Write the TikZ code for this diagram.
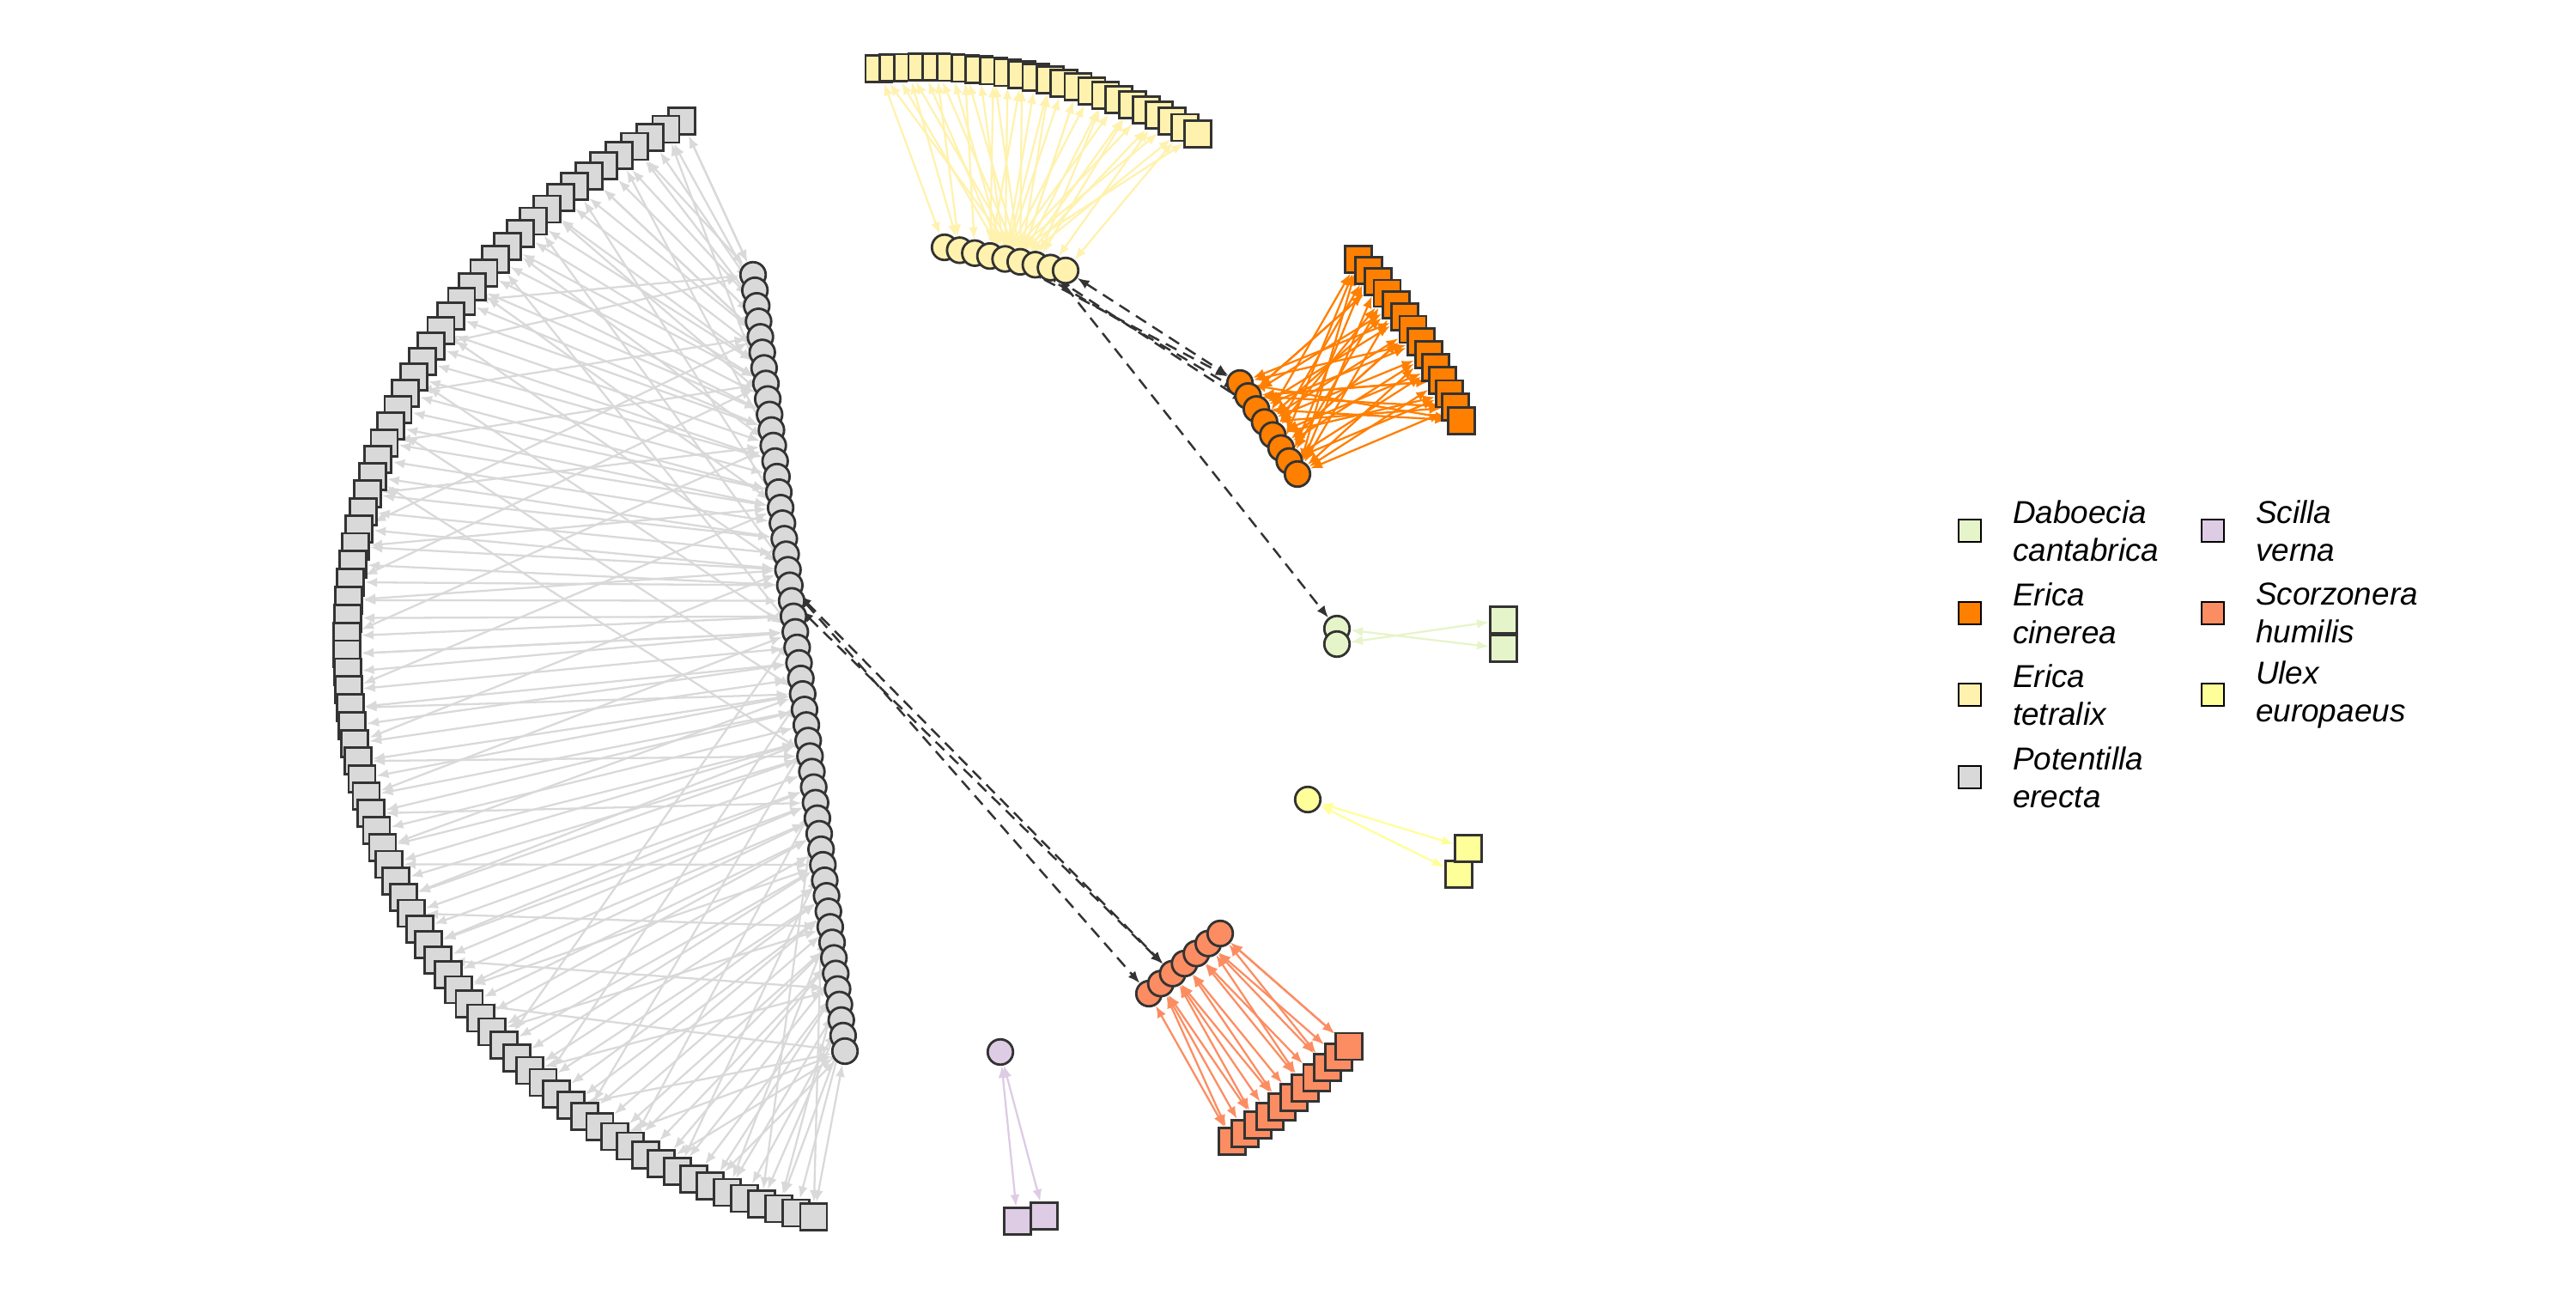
\documentclass[tikz,border=0pt]{standalone}
\usepackage{fontspec}
\setmainfont{Liberation Sans}
\usetikzlibrary{arrows.meta,calc,positioning,backgrounds}
\definecolor{daboecia}{HTML}{E6F5C9}
\definecolor{cinerea}{HTML}{FF7F00}
\definecolor{tetralix}{HTML}{FFF2AE}
\definecolor{potentilla}{HTML}{D9D9D9}
\definecolor{scilla}{HTML}{DECBE4}
\definecolor{scorzonera}{HTML}{FC8D62}
\definecolor{ulex}{HTML}{FFFF99}
\definecolor{rim}{HTML}{333333}

\tikzset{
  sqbox/.style={rectangle,draw=rim,line width=0.8pt,inner sep=0pt,minimum size=3.1mm},
  dotnode/.style={circle,draw=rim,line width=0.8pt,inner sep=0pt,minimum size=2.95mm},
  link/.style={<->,line width=0.65pt},
  crosslink/.style={<->,line width=0.7pt,draw=rim,dash pattern=on 4pt off 2.5pt},
  legbox/.style={rectangle,draw=black,line width=0.8pt,inner sep=0pt,minimum size=2.6mm},
  legtext/.style={font=\fontsize{10.5}{12.5}\selectfont\itshape,align=left,inner sep=0pt}
}

% squares on the outer ring, evenly spread between two angles
\newcommand{\sqarc}[5]{%
  \foreach \k in {1,...,#3}{%
    \pgfmathsetmacro\angpos{(#4)+((#5)-(#4))*(\k-1)/(#3-1)}%
    \node[sqbox,fill=#2] (#1\k) at ($(O)+(\angpos:6.76)$) {};
  }}
% circles on a straight row between two points
\newcommand{\dotrow}[5]{%
  \foreach \k in {1,...,#3}{%
    \pgfmathsetmacro\tpos{(\k-1)/(#3-1)}%
    \node[dotnode,fill=#2] (#1\k) at ($#4!\tpos!#5$) {};
  }}

\begin{document}
\begin{tikzpicture}[>={Latex[length=1.4mm,width=1.1mm]}]
 \useasboundingbox (0,0) rectangle (30,15);
 \coordinate (O) at (10.80,7.46);

 % outer ring
 \sqarc{ps}{potentilla}{82}{115}{258.7}
 \sqarc{ts}{tetralix}{24}{94.8}{62.2}
 \sqarc{cs}{cinerea}{14}{42.0}{23.0}
 \sqarc{zs}{scorzonera}{11}{-58.3}{-43.4}
 \node[sqbox,fill=daboecia] (ds1) at (17.51,7.78) {};
 \node[sqbox,fill=daboecia] (ds2) at (17.51,7.45) {};
 \node[sqbox,fill=ulex] (us2) at (16.99,4.82) {};
 \node[sqbox,fill=ulex] (us1) at (17.10,5.12) {};
 \node[sqbox,fill=scilla] (ss1) at (11.85,0.78) {};
 \node[sqbox,fill=scilla] (ss2) at (12.16,0.84) {};

 % inner rows
 \dotrow{pc}{potentilla}{51}{(8.77,11.80)}{(9.84,2.76)}
 \dotrow{tc}{tetralix}{9}{(11.00,12.12)}{(12.41,11.85)}
 \dotrow{cc}{cinerea}{8}{(14.44,10.54)}{(15.11,9.48)}
 \dotrow{zc}{scorzonera}{7}{(13.38,3.43)}{(14.21,4.13)}
 \node[dotnode,fill=daboecia] (dc1) at (15.57,7.68) {};
 \node[dotnode,fill=daboecia] (dc2) at (15.57,7.50) {};
 \node[dotnode,fill=ulex] (uc) at (15.23,5.69) {};
 \node[dotnode,fill=scilla] (sc) at (11.65,2.75) {};

 \begin{scope}[on background layer]
  % Potentilla
  \foreach \j in {1,...,82}{
    \pgfmathtruncatemacro\ia{round((\j-1)*50/81)+1}
    \pgfmathtruncatemacro\ib{max(1,min(51,\ia+mod(11*\j,31)-15))}
    \pgfmathtruncatemacro\m{mod(\j,3)}
    \draw[link,potentilla] (pc\ia) -- (ps\j);
    \ifnum\m>0 \draw[link,potentilla] (pc\ib) -- (ps\j);\fi
  }
  % Erica tetralix
  \foreach \k in {1,...,24}{
    \pgfmathtruncatemacro\ca{5+mod(\k,2)}
    \pgfmathtruncatemacro\cb{max(1,min(9,round((\k-1)*8/23)+1))}
    \draw[link,tetralix] (tc\ca) -- (ts\k);
    \ifodd\k\relax \draw[link,tetralix] (tc\cb) -- (ts\k);\fi
  }
  % Erica cinerea
  \foreach \k in {1,...,14}{
    \pgfmathtruncatemacro\ca{mod(3*\k,8)+1}
    \pgfmathtruncatemacro\cb{mod(5*\k+2,8)+1}
    \pgfmathtruncatemacro\cc{mod(\k+4,8)+1}
    \draw[link,cinerea] (cc\ca) -- (cs\k);
    \draw[link,cinerea] (cc\cb) -- (cs\k);
    \ifodd\k\relax \draw[link,cinerea] (cc\cc) -- (cs\k);\fi
  }
  % Scorzonera humilis
  \foreach \k in {1,...,11}{
    \pgfmathtruncatemacro\ca{round((\k-1)*6/10)+1}
    \pgfmathtruncatemacro\cb{min(7,\ca+1)}
    \draw[link,scorzonera] (zc\ca) -- (zs\k);
    \ifodd\k\relax \draw[link,scorzonera] (zc\cb) -- (zs\k);\fi
  }
  % small groups
  \foreach \x/\y/\c in {dc1/ds2/daboecia,dc2/ds1/daboecia,uc/us1/ulex,
    uc/us2/ulex,sc/ss1/scilla,sc/ss2/scilla}
    \draw[link,\c] (\x) -- (\y);
  % links between groups
  \foreach \x/\y in {tc9/cc1,tc5/cc1,tc6/cc2,tc7/cc3,tc8/dc1,
    pc21/zc1,pc21/zc3,pc22/zc3}
    \draw[crosslink] (\x) -- (\y);
 \end{scope}

 % legend
 \foreach \c/\x/\y/\na/\nb [count=\n] in {
   daboecia/22.94/8.82/Daboecia/cantabrica,
   cinerea/22.94/7.86/Erica/cinerea,
   tetralix/22.94/6.91/Erica/tetralix,
   potentilla/22.94/5.95/Potentilla/erecta,
   scilla/25.77/8.82/Scilla/verna,
   scorzonera/25.77/7.86/Scorzonera/humilis,
   ulex/25.77/6.91/Ulex/europaeus}{
   \node[legbox,fill=\c] (leg\n) at (\x,\y) {};
   \node[legtext,right=3.5mm of leg\n] {\na\\\nb};
 }
\end{tikzpicture}
\end{document}
